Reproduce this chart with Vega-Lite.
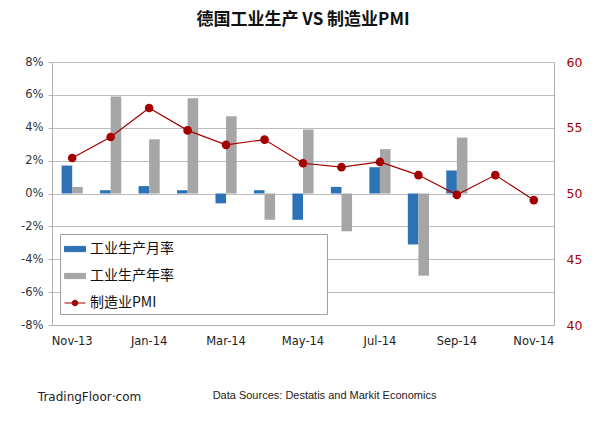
{
  "$schema": "https://vega.github.io/schema/vega-lite/v6.json",
  "width": 502,
  "height": 263,
  "autosize": {"type": "none"},
  "padding": {"left": 52, "top": 62, "right": 58, "bottom": 110},
  "background": "white",
  "config": {"view": {"stroke": null}, "font": "DejaVu Sans"},
  "title": {
    "text": "德国工业生产 VS 制造业PMI",
    "font": "Noto Sans CJK SC",
    "fontSize": 17,
    "fontWeight": "bold",
    "color": "#111111",
    "anchor": "middle",
    "frame": "group",
    "offset": 27
  },
  "data": {
    "values": [
      {"month": "Nov-13", "series": "工业生产月率", "value": 1.7},
      {"month": "Dec-13", "series": "工业生产月率", "value": 0.2},
      {"month": "Jan-14", "series": "工业生产月率", "value": 0.45},
      {"month": "Feb-14", "series": "工业生产月率", "value": 0.2},
      {"month": "Mar-14", "series": "工业生产月率", "value": -0.6},
      {"month": "Apr-14", "series": "工业生产月率", "value": 0.2},
      {"month": "May-14", "series": "工业生产月率", "value": -1.6},
      {"month": "Jun-14", "series": "工业生产月率", "value": 0.4},
      {"month": "Jul-14", "series": "工业生产月率", "value": 1.6},
      {"month": "Aug-14", "series": "工业生产月率", "value": -3.1},
      {"month": "Sep-14", "series": "工业生产月率", "value": 1.4},
      {"month": "Nov-13", "series": "工业生产年率", "value": 0.4},
      {"month": "Dec-13", "series": "工业生产年率", "value": 5.9},
      {"month": "Jan-14", "series": "工业生产年率", "value": 3.3},
      {"month": "Feb-14", "series": "工业生产年率", "value": 5.8},
      {"month": "Mar-14", "series": "工业生产年率", "value": 4.7},
      {"month": "Apr-14", "series": "工业生产年率", "value": -1.6},
      {"month": "May-14", "series": "工业生产年率", "value": 3.9},
      {"month": "Jun-14", "series": "工业生产年率", "value": -2.3},
      {"month": "Jul-14", "series": "工业生产年率", "value": 2.7},
      {"month": "Aug-14", "series": "工业生产年率", "value": -5.0},
      {"month": "Sep-14", "series": "工业生产年率", "value": 3.4},
      {"month": "Nov-13", "series": "制造业PMI", "value": 52.7},
      {"month": "Dec-13", "series": "制造业PMI", "value": 54.3},
      {"month": "Jan-14", "series": "制造业PMI", "value": 56.5},
      {"month": "Feb-14", "series": "制造业PMI", "value": 54.8},
      {"month": "Mar-14", "series": "制造业PMI", "value": 53.7},
      {"month": "Apr-14", "series": "制造业PMI", "value": 54.1},
      {"month": "May-14", "series": "制造业PMI", "value": 52.3},
      {"month": "Jun-14", "series": "制造业PMI", "value": 52.0},
      {"month": "Jul-14", "series": "制造业PMI", "value": 52.4},
      {"month": "Aug-14", "series": "制造业PMI", "value": 51.4},
      {"month": "Sep-14", "series": "制造业PMI", "value": 49.9},
      {"month": "Oct-14", "series": "制造业PMI", "value": 51.4},
      {"month": "Nov-14", "series": "制造业PMI", "value": 49.5}
    ]
  },
  "encoding": {
    "x": {
      "field": "month",
      "type": "nominal",
      "scale": {
        "domain": ["Nov-13", "Dec-13", "Jan-14", "Feb-14", "Mar-14", "Apr-14", "May-14", "Jun-14", "Jul-14", "Aug-14", "Sep-14", "Oct-14", "Nov-14"],
        "paddingInner": 0.45,
        "paddingOuter": 0.25
      },
      "axis": {
        "values": ["Nov-13", "Jan-14", "Mar-14", "May-14", "Jul-14", "Sep-14", "Nov-14"],
        "labelAngle": 0,
        "ticks": false,
        "domainColor": "#b0b0b0",
        "labelFont": "DejaVu Sans",
        "labelFontSize": 11.5,
        "labelColor": "#222222",
        "labelPadding": 10,
        "title": "Data Sources: Destatis and Markit Economics",
        "titleX": 272,
        "titleY": 70,
        "titleAlign": "center",
        "titleBaseline": "middle",
        "titleFont": "Liberation Sans",
        "titleFontSize": 11,
        "titleFontWeight": "normal",
        "titleColor": "#222222"
      }
    }
  },
  "layer": [
    {
      "transform": [{"filter": "datum.series !== '制造业PMI'"}],
      "mark": {"type": "bar"},
      "encoding": {
        "xOffset": {"field": "series", "scale": {"domain": ["工业生产月率", "工业生产年率"], "paddingInner": 0}},
        "y": {
          "field": "value",
          "type": "quantitative",
          "scale": {"domain": [-8, 8], "nice": false},
          "axis": {
            "values": [-8, -6, -4, -2, 0, 2, 4, 6, 8],
            "labelExpr": "datum.value + '%'",
            "grid": true,
            "gridColor": "#bdbdbd",
            "domainColor": "#b0b0b0",
            "tickColor": "#b0b0b0",
            "tickSize": 4,
            "labelPadding": 5,
            "labelFont": "DejaVu Sans",
            "labelFontSize": 11.5,
            "labelColor": "#333333",
            "title": "TradingFloor·com",
            "titleAngle": 0,
            "titleX": 37,
            "titleY": 334,
            "titleAlign": "center",
            "titleBaseline": "middle",
            "titleFont": "DejaVu Sans",
            "titleFontSize": 12,
            "titleFontWeight": "normal",
            "titleColor": "#222222"
          }
        },
        "color": {
          "field": "series",
          "type": "nominal",
          "scale": {
            "domain": ["工业生产月率", "工业生产年率", "制造业PMI"],
            "range": ["#2e72b6", "#a6a6a6", "#a30000"]
          },
          "legend": {
            "orient": "none",
            "legendX": 8,
            "legendY": 172,
            "title": " ",
            "titleOrient": "right",
            "titlePadding": 149,
            "fillColor": "white",
            "strokeColor": "#a0a0a0",
            "padding": 4,
            "rowPadding": 9,
            "symbolSize": 441,
            "labelFont": "Noto Sans CJK SC",
            "labelFontSize": 14,
            "labelColor": "#111111",
            "labelOffset": 4,
            "encode": {
              "symbols": {
                "update": {
                  "shape": {"signal": "datum.value === '制造业PMI' ? 'M-1,0H1M-0.27,0A0.27,0.27 0 1,0 0.27,0A0.27,0.27 0 1,0 -0.27,0Z' : 'M-1,-0.25H1V0.25H-1Z'"},
                  "fill": {"scale": "color", "field": "value"},
                  "stroke": {"scale": "color", "field": "value"},
                  "strokeWidth": {"value": 1},
                  "opacity": {"value": 1}
                }
              }
            }
          }
        }
      }
    },
    {
      "transform": [{"filter": "datum.series === '制造业PMI'"}],
      "encoding": {
        "y": {
          "field": "value",
          "type": "quantitative",
          "scale": {"domain": [40, 60], "nice": false},
          "axis": {
            "orient": "right",
            "values": [40, 45, 50, 55, 60],
            "grid": false,
            "domainColor": "#b0b0b0",
            "ticks": false,
            "labelPadding": 12,
            "labelFont": "DejaVu Sans",
            "labelFontSize": 12.5,
            "labelColor": "#a50000",
            "title": null
          }
        },
        "color": {"field": "series", "type": "nominal"}
      },
      "layer": [
        {"mark": {"type": "line", "strokeWidth": 1.2}},
        {"mark": {"type": "point", "filled": true, "size": 75, "opacity": 1}}
      ]
    }
  ],
  "resolve": {"scale": {"y": "independent"}}
}
